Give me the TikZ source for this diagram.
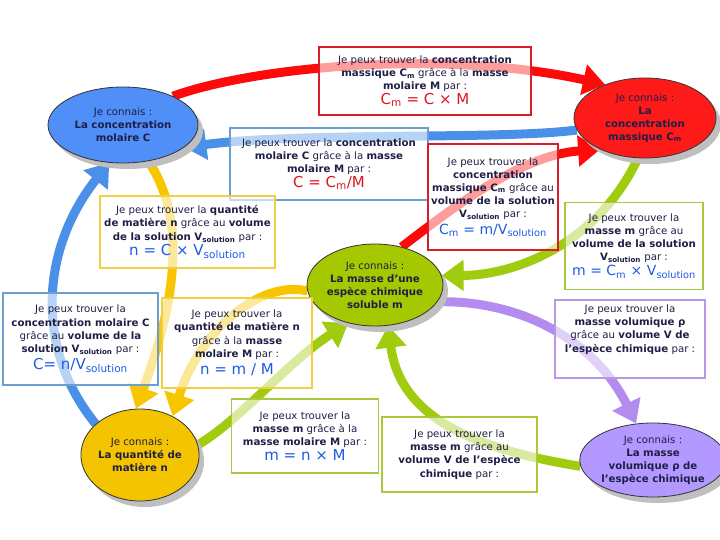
\documentclass[tikz,border=0pt]{standalone}
\usepackage{fontspec}
\setmainfont{DejaVu Sans}
\usetikzlibrary{arrows.meta,shapes.geometric}
\pgfdeclarelayer{background}
\pgfsetlayers{background,main}
\definecolor{txt}{HTML}{1E1E46}
\definecolor{fred}{HTML}{E0141E}
\definecolor{fblue}{HTML}{1E5AE6}
\definecolor{arred}{HTML}{FF0A0A}
\definecolor{arblue}{HTML}{4A90E8}
\definecolor{aryellow}{HTML}{F7C600}
\definecolor{argreen}{HTML}{A0CC10}
\definecolor{arpurple}{HTML}{B48CF0}
\definecolor{bxred}{HTML}{D81E28}
\definecolor{bxblue}{HTML}{6A9FD0}
\definecolor{bxyellow}{HTML}{F0D040}
\definecolor{bxgreen}{HTML}{A8C840}
\definecolor{bxpurple}{HTML}{B898E0}
\definecolor{elblue}{HTML}{4F8FF7}
\definecolor{elred}{HTML}{FF1A1A}
\definecolor{elgreen}{HTML}{A6C800}
\definecolor{elyellow}{HTML}{F5C400}
\definecolor{elpurple}{HTML}{B399FF}
\newcommand\sbs[1]{\textsubscript{#1}}
\newcommand\fmlsize{\fontsize{15}{17}\selectfont}
\newcommand\fmlsmall{\fontsize{14}{16}\selectfont}
\begin{document}
\begin{tikzpicture}[x=1pt,y=-1pt,
  font=\fontsize{10.2}{13.2}\selectfont, text=txt,
  infobox/.style={rectangle, draw=#1, line width=1.6pt, fill=white, fill opacity=0.6, text opacity=1, draw opacity=1, align=center, inner sep=1pt},
  know/.style={ellipse, draw=black!80, line width=0.8pt, fill=#1, align=center, inner sep=0pt, font=\fontsize{10.2}{13}\selectfont,
     preaction={fill=black!25, transform canvas={xshift=5pt,yshift=-6pt}}},
  band/.style={line width=9pt, draw=#1, -{Triangle[length=22pt,width=30pt]}}
]
\useasboundingbox (0,0) rectangle (720,540);

% ellipses
\node[know=elblue, minimum width=150pt, minimum height=76pt] (blue) at (123,125) {Je connais :\\\textbf{La concentration}\\\textbf{molaire C}};
\node[know=elred, minimum width=142pt, minimum height=80pt] (red) at (645,118) {Je connais :\\\textbf{La}\\\textbf{concentration}\\\textbf{massique C\sbs{m}}};
\node[know=elgreen, minimum width=122pt, minimum height=82pt] (green) at (375,285) {Je connais :\\\textbf{La masse d'une}\\\textbf{espèce chimique}\\\textbf{soluble m}};
\node[know=elyellow, minimum width=112pt, minimum height=92pt] (yellow) at (140,455) {Je connais :\\\textbf{La quantité de}\\\textbf{matière n}};
\node[know=elpurple, minimum width=132pt, minimum height=74pt] (purple) at (653,460) {Je connais :\\\textbf{La masse}\\\textbf{volumique ρ de}\\\textbf{l'espèce chimique}};

% boxes
\node[infobox=bxred, minimum width=212pt, minimum height=68pt] (b1) at (425,81)
 {Je peux trouver la \textbf{concentration}\\\textbf{massique C\sbs{m}} grâce à la \textbf{masse}\\\textbf{molaire M} par :\\{\fmlsize\color{fred}C\sbs{m} = C × M}};
\node[infobox=bxblue, minimum width=198pt, minimum height=72pt] (b3) at (329,164)
 {Je peux trouver la \textbf{concentration}\\\textbf{molaire C} grâce à la \textbf{masse}\\\textbf{molaire M} par :\\{\fmlsize\color{fred}C = C\sbs{m}/M}};
\node[infobox=bxred, minimum width=130pt, minimum height=106pt] (b4) at (493,197)
 {Je peux trouver la\\\textbf{concentration}\\\textbf{massique C\sbs{m}} grâce au\\\textbf{volume de la solution}\\\textbf{V\sbs{solution}} par :\\[3pt]{\fmlsmall\color{fblue}C\sbs{m} = m/V\sbs{solution}}};
\node[infobox=bxyellow, minimum width=175pt, minimum height=72pt] (b6) at (187.5,232)
 {Je peux trouver la \textbf{quantité}\\\textbf{de matière n} grâce au \textbf{volume}\\\textbf{de la solution V\sbs{solution}} par :\\[1pt]{\fmlsize\color{fblue}n = C × V\sbs{solution}}};
\node[infobox=bxblue, minimum width=155pt, minimum height=92pt] (b7) at (80.5,339)
 {Je peux trouver la\\\textbf{concentration molaire C}\\grâce au \textbf{volume de la}\\\textbf{solution V\sbs{solution}} par :\\[3pt]{\fmlsize\color{fblue}C= n/V\sbs{solution}}};
\node[infobox=bxyellow, minimum width=150pt, minimum height=90pt] (b8) at (237,343)
 {Je peux trouver la\\\textbf{quantité de matière n}\\grâce à la \textbf{masse}\\\textbf{molaire M} par :\\[4pt]{\fmlsize\color{fblue}n = m / M}};
\node[infobox=bxgreen, minimum width=138pt, minimum height=87pt] (b10) at (634,246)
 {Je peux trouver la\\\textbf{masse m} grâce au\\\textbf{volume de la solution}\\\textbf{V\sbs{solution}} par :\\[2pt]{\fmlsmall\color{fblue}m = C\sbs{m} × V\sbs{solution}}};
\node[infobox=bxpurple, minimum width=150pt, minimum height=78pt] (b11) at (630,339)
 {Je peux trouver la\\\textbf{masse volumique ρ}\\grâce au \textbf{volume V de}\\\textbf{l'espèce chimique} par :\\[8pt]~};
\node[infobox=bxgreen, minimum width=147pt, minimum height=74pt] (b14) at (305,436)
 {Je peux trouver la\\\textbf{masse m} grâce à la\\\textbf{masse molaire M} par :\\[2pt]{\fmlsize\color{fblue}m = n × M}};
\node[infobox=bxgreen, minimum width=155pt, minimum height=75pt] (b15) at (459.5,454.5)
 {Je peux trouver la\\\textbf{masse m} grâce au\\\textbf{volume V de l'espèce}\\\textbf{chimique} par :};

% arrows
\begin{pgfonlayer}{background}
\draw[band=arred]    (blue.30) .. controls (260,65) and (450,50) .. (red.140);
\draw[band=arblue]   (red.190) .. controls (500,140) and (300,132) .. (blue.-20);
\draw[band=arred]    (green.55) .. controls (450,210) and (520,155) .. (red.215);
\draw[band=argreen]  (red.260) .. controls (600,240) and (520,275) .. (green.8);
\draw[band=aryellow] (blue.-55) .. controls (195,230) and (165,330) .. (yellow.95);
\draw[band=arblue]   (yellow.145) .. controls (35,350) and (40,250) .. (blue.-110);
\draw[band=aryellow] (green.185) .. controls (260,280) and (200,330) .. (yellow.50);
\draw[band=argreen]  (yellow.10) .. controls (240,420) and (290,360) .. (green.235);
\draw[band=argreen]  (purple.185) .. controls (480,450) and (400,420) .. (green.-72);
\draw[band=arpurple] (green.-15) .. controls (520,300) and (595,340) .. (purple.115);
\end{pgfonlayer}
\end{tikzpicture}
\end{document}
